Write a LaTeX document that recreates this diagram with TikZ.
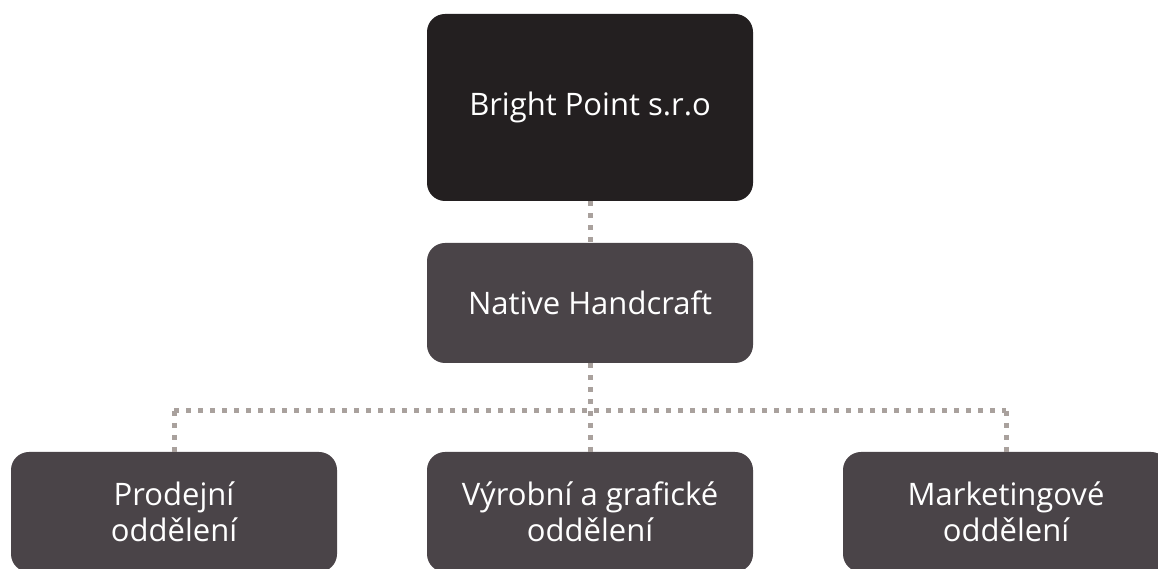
\documentclass[tikz,border=0pt]{standalone}
\usepackage{fontspec}
\setmainfont{Open Sans}
\definecolor{topc}{HTML}{231F20}
\definecolor{boxc}{HTML}{4A4448}
\definecolor{dotc}{HTML}{A9A19D}
\tikzset{
  orgbox/.style={fill=boxc, rounded corners=18pt, minimum width=326pt, minimum height=120pt,
    text=white, align=center, inner sep=0pt, font=\fontsize{31}{36}\selectfont},
  topbox/.style={orgbox, fill=topc, minimum height=187pt},
  dotline/.style={draw=dotc, line width=5pt, dash pattern=on 5pt off 7pt}
}
\begin{document}
\begin{tikzpicture}[x=1pt,y=1pt]
\useasboundingbox (0,0) rectangle (1158,569);
\clip (0,0) rectangle (1158,569);
\fill[white] (0,0) rectangle (1158,569);
\node[topbox] (bp) at (590,461.5) {Bright Point s.r.o};
\node[orgbox] (nh) at (590,266) {Native Handcraft};
\node[orgbox] (pr) at (174,57) {Prodejní\\oddělení};
\node[orgbox] (vy) at (590,57) {Výrobní a grafické\\oddělení};
\node[orgbox] (mk) at (1006,57) {Marketingové\\oddělení};
\coordinate (hub) at (590,158);
\coordinate (hl) at (174,158);
\coordinate (hr) at (1006,158);
\draw[dotline] (bp.south) -- (nh.north);
\draw[dotline] (nh.south) -- (hub);
\draw[dotline] (hub) -- (vy.north);
\draw[dotline] (hl) -- (hr);
\draw[dotline] (hl) -- (pr.north);
\draw[dotline] (hr) -- (mk.north);
\end{tikzpicture}
\end{document}
